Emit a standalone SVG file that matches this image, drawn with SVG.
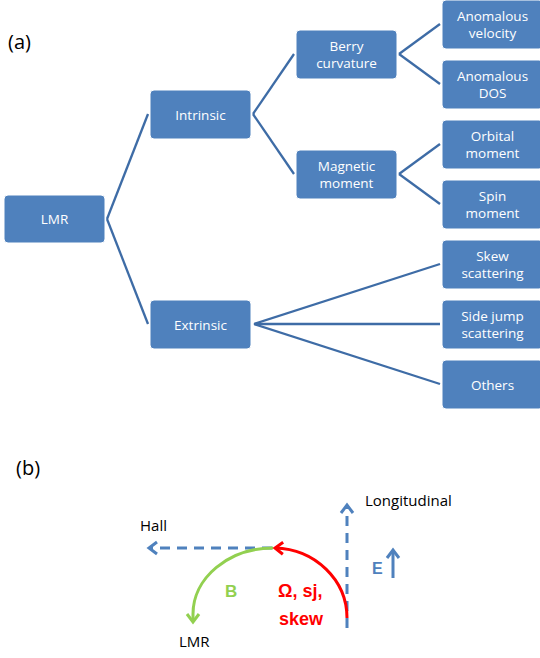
<svg xmlns="http://www.w3.org/2000/svg" width="540" height="658" viewBox="0 0 540 658">
<style>
.box rect{fill:#4F81BD;stroke:#FFFFFF;stroke-width:1}
.box text{fill:#FFFFFF;font-family:"Open Sans","Liberation Sans",sans-serif;font-size:13.5px;text-anchor:middle}
.conn line{stroke:#3E6CA6;stroke-width:2.3}
.lbl{font-family:"Open Sans","Liberation Sans",sans-serif;fill:#000000}
.dash{fill:none;stroke:#4F81BD;stroke-width:3;stroke-dasharray:10 7}
.bold{font-family:"Liberation Sans",Arial,sans-serif;font-weight:bold}
</style>
<defs>
<marker id="mb" markerUnits="userSpaceOnUse" markerWidth="20" markerHeight="20" viewBox="-12 -10 14 20" refX="0" refY="0" orient="auto">
<path d="M-8,-6 L0,0 L-8,6" fill="none" stroke="#4F81BD" stroke-width="3"/>
</marker>
<marker id="mg" markerUnits="userSpaceOnUse" markerWidth="20" markerHeight="20" viewBox="-12 -10 14 20" refX="0" refY="0" orient="auto">
<path d="M-8,-6 L0,0 L-8,6" fill="none" stroke="#92D050" stroke-width="3"/>
</marker>
<marker id="mr" markerUnits="userSpaceOnUse" markerWidth="20" markerHeight="20" viewBox="-12 -10 14 20" refX="0" refY="0" orient="auto">
<path d="M-8,-6 L0,0 L-8,6" fill="none" stroke="#FF0000" stroke-width="3"/>
</marker>
</defs>
<rect width="540" height="658" fill="#FFFFFF"/>
<text class="lbl" x="8" y="49" font-size="20">(a)</text>
<text class="lbl" x="16" y="475" font-size="20">(b)</text>
<g id="connectors" class="conn">
<line x1="107" y1="219" x2="148" y2="114"/>
<line x1="107" y1="219" x2="148" y2="324"/>
<line x1="253" y1="114" x2="294" y2="54"/>
<line x1="253" y1="114" x2="294" y2="174"/>
<line x1="399" y1="54" x2="440" y2="24"/>
<line x1="399" y1="54" x2="440" y2="84"/>
<line x1="399" y1="174" x2="440" y2="144"/>
<line x1="399" y1="174" x2="440" y2="204"/>
<line x1="254" y1="324" x2="440" y2="264"/>
<line x1="254" y1="324" x2="440" y2="324"/>
<line x1="254" y1="324" x2="440" y2="384"/>
</g>
<g id="lmr" class="box"><rect x="4" y="195" width="101" height="48" rx="4"/><text x="54.5" y="224">LMR</text></g>
<g id="intrinsic" class="box"><rect x="150" y="90" width="101" height="49" rx="4"/><text x="200.5" y="119.5">Intrinsic</text></g>
<g id="extrinsic" class="box"><rect x="150" y="300" width="101" height="49" rx="4"/><text x="200.5" y="329.5">Extrinsic</text></g>
<g id="berry" class="box"><rect x="296" y="30" width="101" height="49" rx="4"/><text x="346.5" y="51">Berry</text><text x="346.5" y="68">curvature</text></g>
<g id="magnetic" class="box"><rect x="296" y="150" width="101" height="49" rx="4"/><text x="346.5" y="171">Magnetic</text><text x="346.5" y="188">moment</text></g>
<g id="anomvel" class="box"><rect x="442" y="0" width="101" height="49" rx="4"/><text x="492.5" y="21">Anomalous</text><text x="492.5" y="38">velocity</text></g>
<g id="anomdos" class="box"><rect x="442" y="60" width="101" height="49" rx="4"/><text x="492.5" y="81">Anomalous</text><text x="492.5" y="98">DOS</text></g>
<g id="orbital" class="box"><rect x="442" y="120" width="101" height="49" rx="4"/><text x="492.5" y="141">Orbital</text><text x="492.5" y="158">moment</text></g>
<g id="spin" class="box"><rect x="442" y="180" width="101" height="49" rx="4"/><text x="492.5" y="201">Spin</text><text x="492.5" y="218">moment</text></g>
<g id="skew" class="box"><rect x="442" y="240" width="101" height="49" rx="4"/><text x="492.5" y="261">Skew</text><text x="492.5" y="278">scattering</text></g>
<g id="sidejump" class="box"><rect x="442" y="300" width="101" height="49" rx="4"/><text x="492.5" y="321">Side jump</text><text x="492.5" y="338">scattering</text></g>
<g id="others" class="box"><rect x="442" y="360" width="101" height="49" rx="4"/><text x="492.5" y="389.5">Others</text></g>
<g id="partb">
<path class="dash" d="M272,548 L149,548" marker-end="url(#mb)"/>
<path class="dash" d="M347,628 L347,505" marker-end="url(#mb)"/>
<path d="M393,578 L393,550" stroke="#4F81BD" stroke-width="3" fill="none" marker-end="url(#mb)"/>
<path d="M273,548 A80,66 0 0 0 193,614 L193,622" stroke="#92D050" stroke-width="3" fill="none" marker-end="url(#mg)"/>
<path d="M347,618 A74,70 0 0 0 275,548" stroke="#FF0000" stroke-width="3" fill="none" marker-end="url(#mr)"/>
<text class="lbl" x="140" y="531" font-size="15">Hall</text>
<text class="lbl" x="365" y="506" font-size="15">Longitudinal</text>
<text class="lbl" x="179" y="647" font-size="15">LMR</text>
<text class="bold" x="372" y="574" font-size="16" fill="#4F81BD">E</text>
<text class="bold" x="225" y="597" font-size="17" fill="#92D050">B</text>
<text class="bold" x="278" y="597" font-size="18" fill="#FF0000">Ω, sj,</text>
<text class="bold" x="279" y="625" font-size="18" fill="#FF0000">skew</text>
</g>
</svg>
